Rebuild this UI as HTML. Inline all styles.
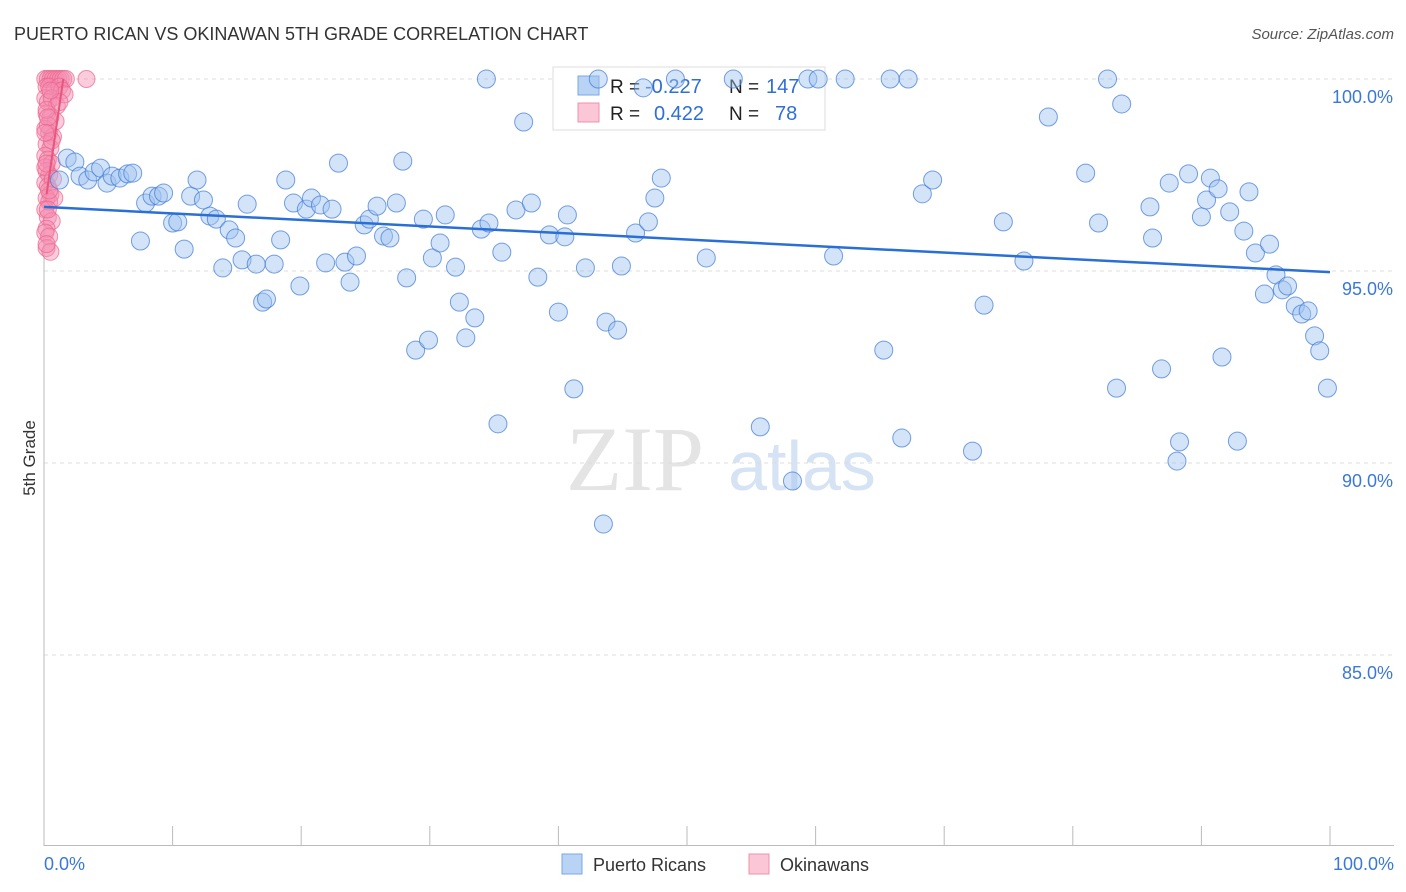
<!DOCTYPE html>
<html><head><meta charset="utf-8"><style>
body{margin:0;background:#fff;font-family:"Liberation Sans",sans-serif}
svg{display:block}
</style></head><body>
<svg id="chart" width="1406" height="892" xmlns="http://www.w3.org/2000/svg">
<text x="14" y="40" font-size="18" fill="#333">PUERTO RICAN VS OKINAWAN 5TH GRADE CORRELATION CHART</text>
<text x="1394" y="39" font-size="15" fill="#555" text-anchor="end" font-style="italic">Source: ZipAtlas.com</text>
<text x="35" y="458" font-size="17" fill="#333" text-anchor="middle" transform="rotate(-90 35 458)">5th Grade</text>
<g><text x="635" y="490" font-size="92" fill="#e4e4e4" font-family="Liberation Serif,serif" text-anchor="middle">ZIP</text><text x="802" y="490" font-size="70" fill="#d6e3f5" text-anchor="middle">atlas</text></g>
<g id="grid"></g><g id="axes"></g>
<g>
<rect x="553" y="67" width="272" height="63" fill="#fff" stroke="#ddd"/>
<rect x="578" y="76" width="21" height="19" fill="#b9d3f5" stroke="#7aa7e6"/>
<rect x="578" y="103" width="21" height="19" fill="#fbc6d5" stroke="#ef93ad"/>
<text x="610" y="93" font-size="19" fill="#222">R =</text><text x="645" y="93" font-size="20" fill="#2f6fd6">-0.227</text>
<text x="729" y="93" font-size="19" fill="#222">N =</text><text x="766" y="93" font-size="20" fill="#2f6fd6">147</text>
<text x="610" y="120" font-size="19" fill="#222">R =</text><text x="654" y="120" font-size="20" fill="#2f6fd6">0.422</text>
<text x="729" y="120" font-size="19" fill="#222">N =</text><text x="775" y="120" font-size="20" fill="#2f6fd6">78</text>
</g>
<g id="marks"></g>
<g>
<rect x="562" y="854" width="20" height="20" fill="#b9d3f5" stroke="#7aa7e6"/>
<text x="593" y="871" font-size="18" fill="#333">Puerto Ricans</text>
<rect x="749" y="854" width="20" height="20" fill="#fbc6d5" stroke="#ef93ad"/>
<text x="780" y="871" font-size="18" fill="#333">Okinawans</text>
</g>
</svg>
<script>
const blueX=[1.2,1.8,2.4,2.8,3.4,3.9,4.4,4.9,5.3,5.9,6.5,6.9,7.5,7.9,8.4,8.9,9.3,10.0,10.4,10.9,11.4,11.9,12.4,12.9,13.4,13.9,14.4,14.9,15.4,15.8,16.5,17.0,17.3,17.9,18.4,18.8,19.4,19.9,20.4,20.8,21.5,21.9,22.4,22.9,23.4,23.8,24.3,24.9,25.3,25.9,26.4,26.9,27.4,27.9,28.2,28.9,29.5,29.9,30.2,30.8,31.2,32.0,32.3,32.8,33.5,34.0,34.6,34.4,35.3,35.6,36.7,37.3,37.9,38.4,39.3,40.0,40.5,40.7,41.2,42.1,43.1,43.5,43.7,44.6,44.9,46.0,46.6,47.0,47.5,48.0,49.1,51.5,53.6,55.7,58.2,59.4,60.2,61.4,62.3,65.3,65.8,66.7,67.2,68.3,69.1,72.2,73.1,74.6,76.2,78.1,81.0,82.0,82.7,83.4,83.8,86.0,86.2,86.9,87.5,88.1,88.3,89.0,90.0,90.4,90.7,91.3,91.6,92.2,92.8,93.3,93.7,94.2,94.9,95.3,95.8,96.3,96.7,97.3,97.8,98.3,98.8,99.2,99.8];
const blueY=[97.37,97.94,97.84,97.47,97.37,97.58,97.68,97.29,97.47,97.42,97.53,97.55,95.78,96.77,96.95,96.95,97.03,96.25,96.28,95.57,96.95,97.37,96.85,96.43,96.35,95.08,96.07,95.86,95.29,96.74,95.18,94.19,94.27,95.18,95.81,97.37,96.77,94.61,96.61,96.90,96.72,95.21,96.61,97.81,95.23,94.71,95.39,96.20,96.35,96.69,95.91,95.86,96.77,97.86,94.82,92.94,96.35,93.20,95.34,95.73,96.46,95.10,94.19,93.26,93.78,96.09,96.25,100,91.02,95.49,96.59,98.88,96.77,94.84,95.94,93.93,95.89,96.46,91.93,95.08,100,88.41,93.67,93.46,95.13,95.99,99.77,96.28,96.90,97.42,100,95.34,100,90.94,89.53,100,100,95.39,100,92.94,100,90.65,100,97.01,97.37,90.31,94.11,96.28,95.26,99.01,97.55,96.25,100,91.95,99.35,96.67,95.86,92.45,97.29,90.05,90.55,97.53,96.41,96.85,97.42,97.14,92.76,96.54,90.57,96.04,97.06,95.47,94.40,95.70,94.90,94.51,94.61,94.09,93.88,93.96,93.31,92.92,91.95];
const pinkX=[0.1,0.3,0.5,0.7,0.9,1.1,1.3,1.5,1.7,0.2,0.4,0.8,1.2,1.4,0.1,0.3,0.6,1.0,0.2,0.5,0.9,0.1,0.4,0.7,0.2,0.5,0.1,0.3,0.6,0.2,0.4,0.1,0.3,0.5,0.2,0.4,0.1,0.3,0.6,0.2,0.1,0.4,0.2,0.5,0.1,0.3,0.2,0.7,3.3,1.6,1.2,0.8,0.3,0.6,0.2,0.4,0.1,0.5,0.3,0.2];
const pinkY=[100,100,100,100,100,100,100,100,100,99.8,99.8,99.7,99.8,99.7,99.5,99.4,99.5,99.3,99.1,99.0,98.9,98.7,98.6,98.5,98.3,98.2,98.0,97.9,97.8,97.6,97.5,97.3,97.2,97.0,96.9,96.8,96.6,96.4,96.3,96.1,96.0,95.9,95.6,95.5,97.7,98.8,99.2,97.4,100,99.6,99.4,96.9,99.0,98.4,97.8,97.1,98.6,99.7,96.6,95.7];
const yTicks=[100,95,90,85];
const yTickLabels=["100.0%","95.0%","90.0%","85.0%"];
const xTickVals=[0,10,20,30,40,50,60,70,80,90,100];
const blueTrend=[[0,96.67],[100,94.97]];
const pinkTrend=[[0.2,97.0],[1.5,100]];
const NS="http://www.w3.org/2000/svg";
const X=v=>44+v*12.86, Y=v=>79+(100-v)*38.4;
function mk(t,a,p){const e=document.createElementNS(NS,t);for(const k in a)e.setAttribute(k,a[k]);p.appendChild(e);return e;}
const grid=document.getElementById('grid'),axes=document.getElementById('axes'),marks=document.getElementById('marks');
yTicks.forEach((v,i)=>{
 const l=mk('line',{x1:44,x2:1394,y1:Y(v),y2:Y(v),stroke:'#ddd','stroke-dasharray':'4 4'},grid);
 
 
 const t=mk('text',{x:1393,y:Y(v)+24,'font-size':18,fill:'#3a78d8','text-anchor':'end'},axes);
 t.textContent=yTickLabels[i];
 
 
});
mk('line',{x1:44,x2:44,y1:70,y2:846,stroke:'#bbb'},axes);
mk('line',{x1:44,x2:1394,y1:845.5,y2:845.5,stroke:'#bbb'},axes);
xTickVals.forEach(v=>{
 const l=mk('line',{x1:X(v),x2:X(v),y1:826,y2:846,stroke:'#bbb'},axes);
 
 
});
const xl0=mk('text',{x:44,y:870,'font-size':18,fill:'#3a78d8'},axes);xl0.textContent='0.0%';


const xl1=mk('text',{x:1394,y:870,'font-size':18,fill:'#3a78d8','text-anchor':'end'},axes);xl1.textContent='100.0%';


pinkX.forEach((x,i)=>{
 const c=mk('circle',{cx:X(x),cy:Y(pinkY[i]),r:8.5,fill:'rgba(244,143,177,0.45)',stroke:'rgba(236,100,140,0.7)','stroke-width':1},marks);
 
 
});
blueX.forEach((x,i)=>{
 const c=mk('circle',{cx:X(x),cy:Y(blueY[i]),r:9,fill:'rgba(160,195,240,0.45)',stroke:'rgba(60,120,215,0.7)','stroke-width':1},marks);
 
 
});
const bt=mk('line',{x1:X(blueTrend[0][0]),y1:Y(blueTrend[0][1]),x2:X(blueTrend[1][0]),y2:Y(blueTrend[1][1]),stroke:'#2a6fd6','stroke-width':2.5},marks);


const pt=mk('line',{x1:X(pinkTrend[0][0]),y1:Y(pinkTrend[0][1]),x2:X(pinkTrend[1][0]),y2:Y(pinkTrend[1][1]),stroke:'#e8557f','stroke-width':2},marks);


</script>
</body></html>
